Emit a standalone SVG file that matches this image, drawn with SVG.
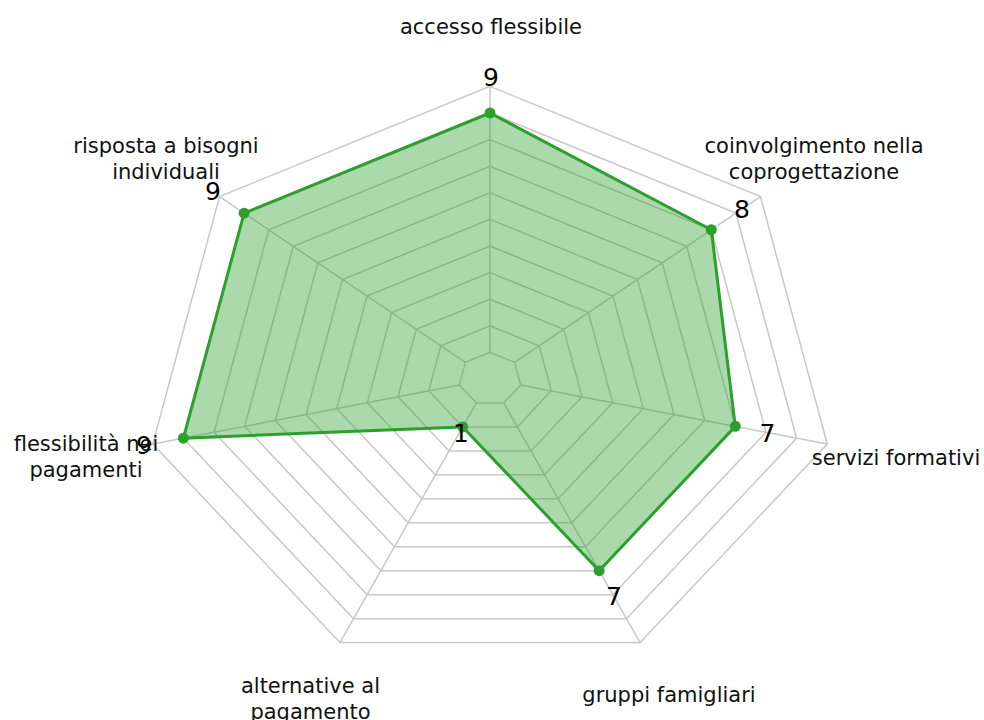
<svg xmlns="http://www.w3.org/2000/svg" xmlns:xlink="http://www.w3.org/1999/xlink" width="984" height="720" viewBox="0 0 984 720">
<style>
.grid{fill:none;stroke:#c8c8c8;stroke-width:1.5;vector-effect:non-scaling-stroke;stroke-linejoin:miter}
.cat{font-family:"DejaVu Sans","Liberation Sans",sans-serif;font-size:21px;fill:#111;text-anchor:middle}
.val{font-family:"DejaVu Sans","Liberation Sans",sans-serif;font-size:25px;fill:#000;text-anchor:middle}
.area{fill:#2ca02c;fill-opacity:0.4;stroke:none}
.line{fill:none;stroke:#2ca02c;stroke-width:3;stroke-linejoin:round}
.dot{fill:#2ca02c}
</style>
<defs>
<polygon id="hept" class="grid" points="0,-1 0.781831,-0.62349 0.974928,0.222521 0.433884,0.900969 -0.433884,0.900969 -0.974928,0.222521 -0.781831,-0.62349"/>
</defs>
<rect width="984" height="720" fill="#ffffff"/>
<g id="grid">
<use xlink:href="#hept" transform="translate(490 379) scale(31.45 26.6)"/>
<use xlink:href="#hept" transform="translate(490 379) scale(62.9 53.2)"/>
<use xlink:href="#hept" transform="translate(490 379) scale(94.35 79.8)"/>
<use xlink:href="#hept" transform="translate(490 379) scale(125.8 106.4)"/>
<use xlink:href="#hept" transform="translate(490 379) scale(157.25 133)"/>
<use xlink:href="#hept" transform="translate(490 379) scale(188.7 159.6)"/>
<use xlink:href="#hept" transform="translate(490 379) scale(220.15 186.2)"/>
<use xlink:href="#hept" transform="translate(490 379) scale(251.6 212.8)"/>
<use xlink:href="#hept" transform="translate(490 379) scale(283.05 239.4)"/>
<use xlink:href="#hept" transform="translate(490 379) scale(314.5 266)"/>
<use xlink:href="#hept" transform="translate(490 379) scale(345.95 292.6)"/>
<g transform="translate(490 379) scale(31.45 26.6)">
<path class="grid" d="M0,-1 L0,-11 M0.781831,-0.62349 L8.600141,-6.85839 M0.974928,0.222521 L10.724208,2.447731 M0.433884,0.900969 L4.772724,9.910659 M-0.433884,0.900969 L-4.772724,9.910659 M-0.974928,0.222521 L-10.724208,2.447731 M-0.781831,-0.62349 L-8.600141,-6.85839"/>
</g>
</g>
<g id="series">
<polygon class="area" points="490,113 711.30,229.74 735.29,426.35 599.17,570.73 462.71,426.93 183.39,438.19 244.11,213.15"/>
<polygon class="line" points="490,113 711.30,229.74 735.29,426.35 599.17,570.73 462.71,426.93 183.39,438.19 244.11,213.15"/>
<circle class="dot" cx="490" cy="113" r="5.5"/>
<circle class="dot" cx="711.30" cy="229.74" r="5.5"/>
<circle class="dot" cx="735.29" cy="426.35" r="5.5"/>
<circle class="dot" cx="599.17" cy="570.73" r="5.5"/>
<circle class="dot" cx="462.71" cy="426.93" r="5.5"/>
<circle class="dot" cx="183.39" cy="438.19" r="5.5"/>
<circle class="dot" cx="244.11" cy="213.15" r="5.5"/>
</g>
<g id="values">
<text class="val" x="491" y="86">9</text>
<text class="val" x="742" y="218">8</text>
<text class="val" x="767.5" y="441.5">7</text>
<text class="val" x="614" y="605">7</text>
<text class="val" x="461" y="441.5">1</text>
<text class="val" x="144" y="454">9</text>
<text class="val" x="213" y="200">9</text>
</g>
<g id="labels">
<text class="cat" x="491" y="34">accesso flessibile</text>
<text class="cat" x="814" y="153">coinvolgimento nella</text>
<text class="cat" x="814" y="179">coprogettazione</text>
<text class="cat" x="896" y="465">servizi formativi</text>
<text class="cat" x="669" y="701.5">gruppi famigliari</text>
<text class="cat" x="310.5" y="693">alternative al</text>
<text class="cat" x="310.5" y="719">pagamento</text>
<text class="cat" x="86" y="451">flessibilità nei</text>
<text class="cat" x="86" y="477">pagamenti</text>
<text class="cat" x="166" y="153">risposta a bisogni</text>
<text class="cat" x="166" y="179">individuali</text>
</g>
</svg>
